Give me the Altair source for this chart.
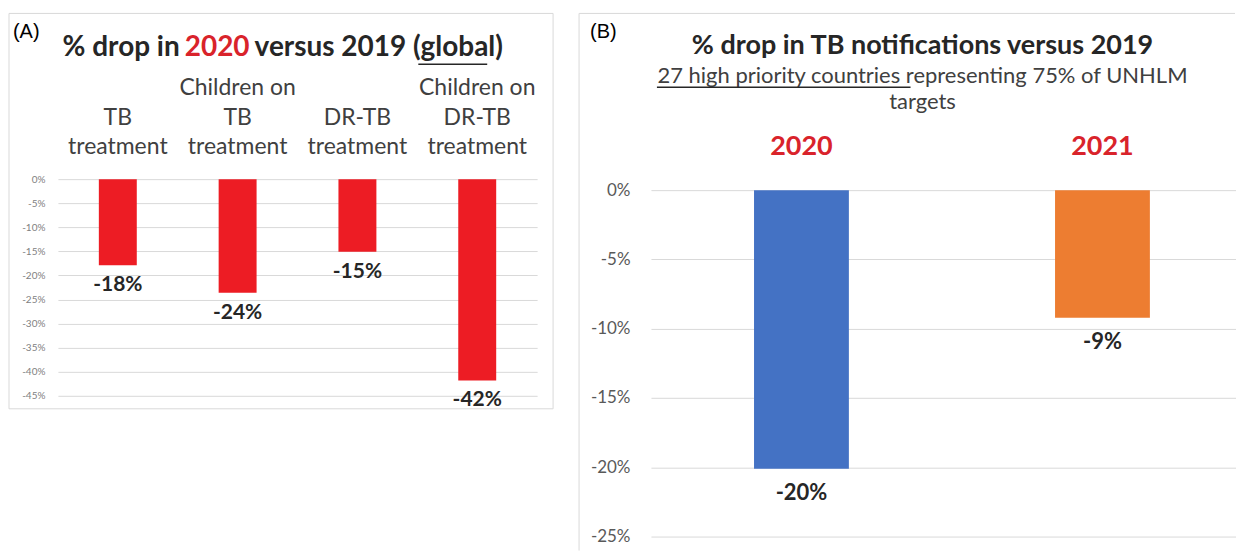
import altair as alt
import pandas as pd

# ---------------- data ----------------
cats_a = ["TB treatment", "Children on TB treatment", "DR-TB treatment", "Children on DR-TB treatment"]
cat_line1_a = ["", "Children on", "", "Children on"]      # top line
cat_line2_a = ["TB", "TB", "DR-TB", "DR-TB"]              # middle line
cat_line3_a = ["treatment", "treatment", "treatment", "treatment"]  # bottom line
vals_a = [-17.9, -23.6, -15.1, -41.8]
labels_a = ["-18%", "-24%", "-15%", "-42%"]

years_b = ["2020", "2021"]
vals_b = [-20.1, -9.2]
labels_b = ["-20%", "-9%"]
colors_b = ["#4472C4", "#ED7D31"]

ticks_a = [0, -5, -10, -15, -20, -25, -30, -35, -40, -45]
ticks_b = [0, -5, -10, -15, -20, -25]

title_a_parts = ["% drop in", "2020", "versus 2019 (global)"]
title_b = "% drop in TB notifications versus 2019"
subtitle_b = ["27 high priority countries representing 75% of UNHLM", "targets"]

FONT = "Lato"
RED = "#d9232b"
DARK = "#262626"
GREY = "#404040"
GRID = "#d9d9d9"

df_a = pd.DataFrame({"cat": cats_a, "l1": cat_line1_a, "l2": cat_line2_a, "l3": cat_line3_a,
                     "v": vals_a, "lab": labels_a})
df_b = pd.DataFrame({"year": years_b, "v": vals_b, "lab": labels_b})
one = pd.DataFrame({"k": [0]})


def seg(txt, x, y, color=DARK, size=27, weight="bold", font=FONT, align="left", baseline="alphabetic"):
    return alt.Chart(pd.DataFrame({"t": [txt]})).mark_text(
        align=align, baseline=baseline, fontSize=size, fontWeight=weight, font=font, color=color
    ).encode(x=alt.value(x), y=alt.value(y), text="t:N")


# ---------------- panel A ----------------
WA, HA = 480, 217
xa = alt.X("cat:N", sort=cats_a, scale=alt.Scale(paddingInner=0, paddingOuter=0), axis=None)
ya = alt.Y("v:Q", scale=alt.Scale(domain=[-45, 0], nice=False),
           axis=alt.Axis(values=ticks_a, tickCount=len(ticks_a), labelExpr="datum.value + '%'",
                         labelFontSize=10, labelColor="#7f7f7f", labelFont=FONT, labelPadding=13,
                         domain=False, labelOverlap=False, ticks=False, gridColor=GRID,
                         gridWidth=1, title=None))

base_a = alt.Chart(df_a)
bars_a = base_a.mark_bar(size=38, color="#ed1c24").encode(x=xa, y=ya)
lab_a = base_a.mark_text(baseline="middle", dy=20, fontSize=21, fontWeight="bold",
                         font=FONT, color=DARK).encode(x=xa, y="v:Q", text="lab:N")
cat_layers = []
for fld, yy in (("l1", -91), ("l2", -61), ("l3", -32)):
    cat_layers.append(base_a.mark_text(baseline="middle", fontSize=23, font=FONT, color=GREY)
                      .encode(x=xa, y=alt.value(yy), text=f"{fld}:N"))

box_a = alt.Chart(one).mark_rect(fill=None, stroke=GRID, strokeWidth=1).encode(
    x=alt.value(-49), x2=alt.value(496), y=alt.value(-166), y2=alt.value(230))

ty = -131
TS = 28
t_a = [
    seg(title_a_parts[0], 122, ty, size=TS, align="right", baseline="middle"),
    seg(title_a_parts[1], 159.5, ty, size=TS, color=RED, align="center", baseline="middle"),
    seg(title_a_parts[2], 197, ty, size=TS, align="left", baseline="middle"),
]
ul_a = alt.Chart(one).mark_rule(color=DARK, strokeWidth=1.5).encode(
    x=alt.value(361), x2=alt.value(430), y=alt.value(-115))
lbl_a = seg("(A)", -45, -141, color="black", size=20, weight="normal", font="Liberation Sans")

panel_a = alt.layer(box_a, bars_a, lab_a, *cat_layers, *t_a, ul_a, lbl_a).properties(width=WA, height=HA)

# ---------------- panel B ----------------
OB = 11  # vertical offset of panel B's zero line inside its view
WB, HB = 585, 347 + OB
xb = alt.X("year:N", sort=years_b, scale=alt.Scale(range=[0, 603], paddingInner=0, paddingOuter=0), axis=None)
yb = alt.Y("v:Q", scale=alt.Scale(domain=[-25, 0], nice=False, range=[HB, OB]),
           axis=alt.Axis(values=ticks_b, tickCount=len(ticks_b), labelExpr="datum.value + '%'",
                         labelFontSize=17, labelColor="#595959", labelFont=FONT, labelPadding=21,
                         domain=False, labelOverlap=False, ticks=False, gridColor=GRID,
                         gridWidth=1, title=None))
base_b = alt.Chart(df_b)
bars_b = base_b.mark_bar(size=95).encode(
    x=xb, y=yb,
    color=alt.Color("year:N", scale=alt.Scale(domain=years_b, range=colors_b), legend=None))
lab_b = base_b.mark_text(baseline="middle", dy=24, fontSize=22, fontWeight="bold",
                         font=FONT, color=DARK).encode(x=xb, y="v:Q", text="lab:N")
yr_b = base_b.mark_text(baseline="middle", fontSize=27, fontWeight="bold", font=FONT,
                        color=RED).encode(x=xb, y=alt.value(-43 + OB), text="year:N")

left_b = alt.Chart(one).mark_rule(color=GRID, strokeWidth=1).encode(
    x=alt.value(-72), y=alt.value(-177 + OB), y2=alt.value(361 + OB))
top_b = alt.Chart(one).mark_rule(color=GRID, strokeWidth=1).encode(
    x=alt.value(-72), x2=alt.value(585), y=alt.value(-177 + OB))

t_b = seg(title_b, 272, -144 + OB, align="center", baseline="middle")
s_b1 = seg(subtitle_b[0], 272, -114 + OB, color=GREY, size=22, weight="normal", align="center", baseline="middle")
s_b2 = seg(subtitle_b[1], 272, -88 + OB, color=GREY, size=22, weight="normal", align="center", baseline="middle")
ul_b = alt.Chart(one).mark_rule(color=DARK, strokeWidth=1.5).encode(
    x=alt.value(6), x2=alt.value(260), y=alt.value(-103 + OB))
lbl_b = seg("(B)", -61, -152 + OB, color="black", size=20, weight="normal", font="Liberation Sans")

panel_b = alt.layer(left_b, top_b, bars_b, lab_b, yr_b, t_b, s_b1, s_b2, ul_b, lbl_b).properties(width=WB, height=HB)

chart = alt.hconcat(panel_a, panel_b, spacing=24).properties(
    padding={"left": 8, "top": 12, "right": 0, "bottom": 0},
    background="white",
).configure_view(stroke=None)

chart.save("out.html", embed_options={"renderer": "svg", "actions": False})
